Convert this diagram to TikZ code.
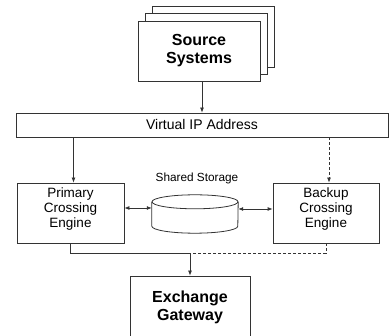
\documentclass[tikz,border=0pt]{standalone}
\usepackage{fontspec}
\setmainfont{Liberation Sans}
\usetikzlibrary{arrows.meta}
\tikzset{
  >={Latex[length=5pt,width=4pt]},
  box/.style={draw=black!80, fill=white, line width=0.8pt, align=center, inner sep=0pt},
  link/.style={draw=black!80, line width=0.8pt},
  dashline/.style={dash pattern=on 3pt off 2pt},
  bigfont/.style={font=\fontsize{16}{18}\selectfont\bfseries},
  midfont/.style={font=\fontsize{13.5}{15}\selectfont},
}
\begin{document}
\begin{tikzpicture}[x=1pt, y=-1pt]
  \useasboundingbox (0,0) rectangle (389,336);

  % Source systems (stacked)
  \node[box, minimum width=122pt, minimum height=61pt] (src3) at (213,37) {};
  \node[box, minimum width=122pt, minimum height=61pt] (src2) at (206,44) {};
  \node[box, bigfont, minimum width=122pt, minimum height=60pt] (src) at (199,51) {Source\\Systems};

  % Virtual IP
  \node[box, font=\fontsize{14}{16}\selectfont, minimum width=372pt, minimum height=24pt] (vip) at (202,125) {Virtual IP Address};

  % Crossing engines
  \node[box, minimum width=107pt, minimum height=60pt,
        label={[midfont, align=center, yshift=4pt]center:Primary\\Crossing\\Engine}] (prim) at (70.5,213) {};
  \node[box, minimum width=106pt, minimum height=60pt,
        label={[midfont, align=center, yshift=4pt]center:Backup\\Crossing\\Engine}] (bkup) at (326,213) {};

  % Shared storage
  \node[minimum width=86pt, minimum height=38pt, inner sep=0pt] (store) at (195,214) {};
  \node[font=\fontsize{11.8}{13}\selectfont] (storelbl) at (197,178) {Shared Storage};
  \draw[link] ([yshift=-7pt]store.north west) -- ([yshift=7pt]store.south west)
      arc[start angle=180, end angle=360, x radius=43pt, y radius=7pt]
      -- ([yshift=-7pt]store.north east);
  \draw[link] ([yshift=-7pt]store.north) ellipse [x radius=43pt, y radius=7pt];

  % Exchange gateway
  \node[box, bigfont, minimum width=120pt, minimum height=62pt] (gw) at (190,307) {Exchange\\Gateway};
  \coordinate (join) at ([yshift=22pt]gw.north);

  % Connections
  \draw[link, ->] (src.south -| vip.north) -- (vip.north);
  \draw[link, ->] ([xshift=3pt]prim.north |- vip.south) -- ([xshift=3pt]prim.north);
  \draw[link, ->, dashline] ([xshift=3pt]bkup.north |- vip.south) -- ([xshift=3pt]bkup.north);
  \draw[link, <->] ([yshift=5pt]prim.east) -- ([yshift=5pt]prim.east -| store.west);
  \draw[link, <->] ([yshift=5pt]store.east) -- ([yshift=5pt]store.east -| bkup.west);
  \draw[link] (prim.south) |- (join);
  \draw[link, dashline] (bkup.south) |- (join);
  \draw[link, ->] (join) -- (gw.north);
\end{tikzpicture}
\end{document}
